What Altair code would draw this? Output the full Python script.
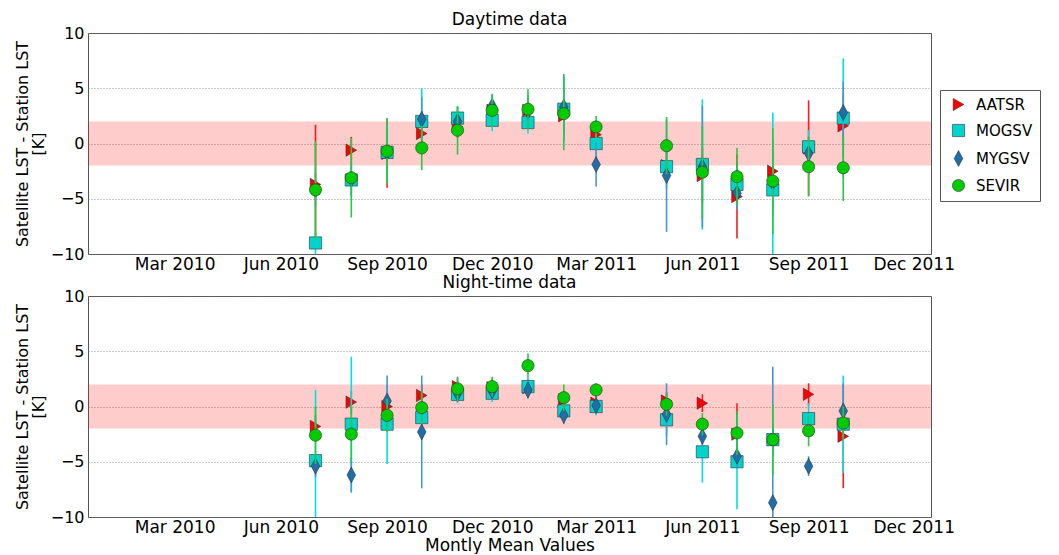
import altair as alt
import pandas as pd

# ---------------- data ----------------
months = ["2010-07-01", "2010-08-01", "2010-09-01", "2010-10-01", "2010-11-01",
          "2010-12-01", "2011-01-01", "2011-02-01", "2011-03-01", "2011-05-01",
          "2011-06-01", "2011-07-01", "2011-08-01", "2011-09-01", "2011-10-01"]
series = ["AATSR", "MOGSV", "MYGSV", "SEVIR"]

# Daytime means and error half-widths
day_aatsr = [-3.7, -0.6, -0.9, 0.9, 1.5, 3.0, 3.0, 2.5, 0.8, -2.0, -2.9, -4.8, -2.5, -0.4, 1.6]
day_aatsr_err = [5.4, 1.2, 3.1, 1.0, 1.0, 1.0, 1.0, 1.5, 0.8, 1.5, 2.5, 3.8, 2.8, 4.3, 2.9]
day_mogsv = [-9.0, -3.3, -0.8, 2.0, 2.3, 2.1, 1.9, 3.1, 0.0, -2.1, -1.9, -3.7, -4.2, -0.3, 2.3]
day_mogsv_err = [1.0, 1.5, 2.5, 3.0, 1.0, 1.0, 1.0, 3.0, 1.5, 2.0, 5.9, 1.5, 7.0, 1.5, 5.4]
day_mygsv = [-4.2, -3.2, -0.8, 2.2, 2.0, 3.4, 2.9, 3.3, -1.9, -2.9, -2.1, -4.5, -3.5, -0.9, 2.8]
day_mygsv_err = [1.5, 1.5, 2.0, 2.0, 1.3, 1.0, 1.5, 3.0, 2.0, 5.1, 5.5, 1.5, 3.0, 1.5, 2.8]
day_sevir = [-4.2, -3.1, -0.7, -0.4, 1.2, 3.0, 3.1, 2.7, 1.5, -0.2, -2.6, -3.0, -3.4, -2.1, -2.2]
day_sevir_err = [4.4, 3.6, 3.0, 2.0, 2.2, 1.5, 1.8, 3.3, 1.0, 2.6, 4.2, 2.6, 4.8, 2.7, 3.0]

# Night-time means and error half-widths
night_aatsr = [-1.8, 0.4, 0.0, 1.0, 1.8, 1.7, 1.7, 0.6, 0.3, 0.5, 0.3, -2.5, -3.0, 1.1, -2.7]
night_aatsr_err = [1.0, 1.0, 1.0, 1.0, 0.8, 0.8, 0.8, 0.8, 0.8, 0.8, 0.8, 2.8, 1.5, 1.0, 4.7]
night_mogsv = [-4.9, -1.6, -1.6, -1.0, 1.1, 1.2, 1.8, -0.4, 0.0, -1.2, -4.1, -5.0, -3.0, -1.1, -1.6]
night_mogsv_err = [6.4, 6.1, 3.6, 1.5, 0.8, 0.8, 0.8, 0.8, 0.8, 1.5, 2.8, 4.3, 1.5, 1.4, 4.4]
night_mygsv = [-5.4, -6.2, 0.5, -2.3, 1.2, 1.4, 1.5, -0.8, 0.1, -0.7, -2.7, -4.5, -8.7, -5.4, -0.4]
night_mygsv_err = [1.0, 1.6, 2.3, 5.1, 0.8, 0.8, 0.8, 0.8, 0.8, 2.8, 1.0, 1.0, 12.3, 0.9, 2.5]
night_sevir = [-2.6, -2.5, -0.8, -0.1, 1.6, 1.8, 3.7, 0.8, 1.5, 0.2, -1.6, -2.4, -3.0, -2.2, -1.5]
night_sevir_err = [2.6, 2.5, 1.5, 1.5, 1.1, 0.9, 1.1, 1.2, 0.6, 1.0, 1.0, 2.0, 3.2, 1.4, 1.5]

band = [-2, 2]
y_ticks = [-10, -5, 0, 5, 10]
x_ticks = [(2010, 3), (2010, 6), (2010, 9), (2010, 12), (2011, 3), (2011, 6), (2011, 9), (2011, 12)]

marker_colors = ["#ff0000", "#00d4cc", "#1f6eaa", "#00cc00"]
bar_colors = ["#ff1a1a", "#00e0e0", "#4a95cf", "#22cc44"]
shapes = ["triangle-right", "square", "M0,-1.3L0.7,0L0,1.3L-0.7,0Z", "circle"]

FONT = "DejaVu Sans"
W, H = 843, 221


def build(vals, errs):
    rows = []
    for s in series:
        for m, v, e in zip(months, vals[s], errs[s]):
            rows.append({"date": m, "series": s, "value": v, "lo": v - e, "hi": v + e})
    return pd.DataFrame(rows)


day_df = build(
    {"AATSR": day_aatsr, "MOGSV": day_mogsv, "MYGSV": day_mygsv, "SEVIR": day_sevir},
    {"AATSR": day_aatsr_err, "MOGSV": day_mogsv_err, "MYGSV": day_mygsv_err, "SEVIR": day_sevir_err},
)
night_df = build(
    {"AATSR": night_aatsr, "MOGSV": night_mogsv, "MYGSV": night_mygsv, "SEVIR": night_sevir},
    {"AATSR": night_aatsr_err, "MOGSV": night_mogsv_err, "MYGSV": night_mygsv_err, "SEVIR": night_sevir_err},
)
band_df = pd.DataFrame({"lo": [band[0]], "hi": [band[1]]})

legend = alt.Legend(
    title=None, orient="none", legendX=852, legendY=57,
    strokeColor="#555", fillColor="white", padding=7, cornerRadius=0,
    labelFontSize=15, labelFont=FONT, labelColor="black",
    symbolSize=150, symbolStrokeColor="#333", symbolStrokeWidth=0.6,
    rowPadding=10, labelOffset=10, symbolOffset=4,
)

yscale = alt.Scale(domain=[-10, 10], nice=False, zero=False)
xscale = alt.Scale(
    type="utc",
    domain=[alt.DateTime(year=2009, month=12, date=16, utc=True),
            alt.DateTime(year=2011, month=12, date=16, utc=True)],
)


def panel(df, title, xtitle, show_legend):
    xaxis = alt.Axis(
        values=[alt.DateTime(year=y, month=m, date=1, utc=True) for y, m in x_ticks],
        format="%b %Y", grid=False, ticks=False, domain=False,
        labelFontSize=17, labelPadding=2, title=xtitle, titleFontSize=17,
        titleFontWeight="normal", titlePadding=2,
    )
    yaxis = alt.Axis(
        values=y_ticks, grid=True, gridDash=[1, 2], gridColor="#777", gridWidth=0.8,
        ticks=False, domain=False, labelFontSize=16, labelPadding=4,
        title=["Satellite LST - Station LST", "[K]"], titleFontSize=16,
        titleFontWeight="normal", titlePadding=4, titleLineHeight=16,
    )
    lg = legend if show_legend else None
    layers = [
        alt.Chart(band_df).mark_rect(color="#ff0000", opacity=0.2).encode(
            y=alt.Y("lo:Q", scale=yscale, axis=yaxis), y2="hi:Q"
        )
    ]
    for s in series:
        sub = alt.Chart(df).transform_filter(alt.datum.series == s)
        layers.append(
            sub.mark_rule(strokeWidth=1.6, clip=True).encode(
                x=alt.X("date:T", scale=xscale, axis=xaxis),
                y=alt.Y("lo:Q", scale=yscale, axis=yaxis),
                y2="hi:Q",
                stroke=alt.Stroke("series:N", scale=alt.Scale(domain=series, range=bar_colors), legend=None),
            )
        )
        layers.append(
            sub.mark_point(filled=True, opacity=1, size=150, stroke="#333", strokeWidth=0.6, clip=True).encode(
                x=alt.X("date:T", scale=xscale, axis=xaxis),
                y=alt.Y("value:Q", scale=yscale, axis=yaxis),
                color=alt.Color("series:N", scale=alt.Scale(domain=series, range=marker_colors), legend=lg),
                shape=alt.Shape("series:N", scale=alt.Scale(domain=series, range=shapes), legend=lg),
            )
        )
    return alt.layer(*layers).properties(
        width=W, height=H,
        title=alt.Title(title, fontSize=17, fontWeight="normal", font=FONT, offset=-4,
                        color="black"),
    )


chart = alt.vconcat(
    panel(day_df, "Daytime data", None, True),
    panel(night_df, "Night-time data", "Montly Mean Values", False),
    spacing=0,
).resolve_legend(
    color="independent", shape="independent"
).properties(
    padding={"left": 5, "top": 2, "right": 0, "bottom": 0}
).configure_view(
    stroke="#555", strokeWidth=1
).configure_axis(
    labelFont=FONT, titleFont=FONT, labelColor="black", titleColor="black"
).configure_legend(
    labelFont=FONT
)

chart.save("out.html", embed_options={"renderer": "svg", "actions": False})
